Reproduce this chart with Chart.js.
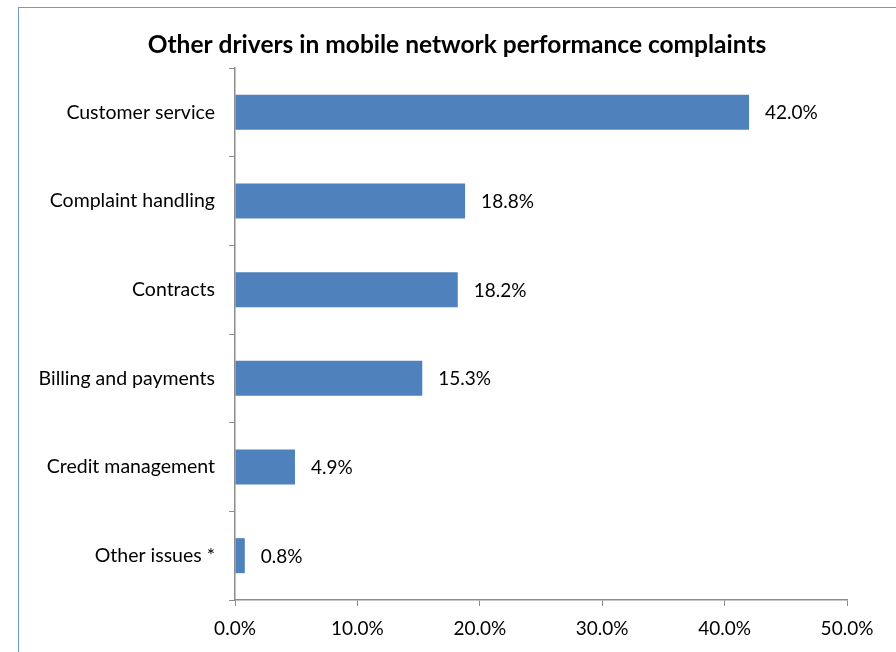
<!DOCTYPE html>
<html>
<head>
<meta charset="utf-8">
<script src="https://cdn.jsdelivr.net/npm/chart.js@4/dist/chart.umd.min.js"></script>
<style>
  html, body { margin: 0; padding: 0; background: #ffffff; }
  #wrap { position: relative; width: 896px; height: 652px; }
</style>
</head>
<body>
<div id="wrap"><canvas id="c" width="896" height="652"></canvas></div>
<script>
// Complaint drivers and their shares (percent)
const categories = ["Customer service", "Complaint handling", "Contracts", "Billing and payments", "Credit management", "Other issues *"];
const shares = [42.0, 18.8, 18.2, 15.3, 4.9, 0.8];
const titleText = "Other drivers in mobile network performance complaints";
const xMax = 50;
const xStep = 10;

const FONT = "Lato, 'Open Sans', sans-serif";
const AXIS_GREY = "#8c8c8c";

// Frame round the chart, title and the value labels after each bar
const decorations = {
  id: "decorations",
  beforeDraw(chart) {
    const ctx = chart.ctx;
    ctx.save();
    ctx.fillStyle = "#ffffff";
    ctx.fillRect(0, 0, chart.width, chart.height);
    ctx.strokeStyle = "#6d9bd2";
    ctx.lineWidth = 1;
    ctx.strokeRect(18.5, 7.5, chart.width + 10, chart.height + 10);
    ctx.restore();
  },
  afterDraw(chart) {
    const ctx = chart.ctx;
    ctx.save();
    ctx.fillStyle = "#000000";
    ctx.font = "bold 24.5px " + FONT;
    ctx.textAlign = "center";
    ctx.textBaseline = "middle";
    ctx.fillText(titleText, 457, 45);

    ctx.font = "19px " + FONT;
    ctx.textAlign = "left";
    const meta = chart.getDatasetMeta(0);
    meta.data.forEach((bar, i) => {
      ctx.fillText(shares[i].toFixed(1) + "%", bar.x + 16, bar.y + 1);
    });
    ctx.restore();
  }
};

new Chart(document.getElementById("c"), {
  type: "bar",
  data: {
    labels: categories,
    datasets: [{
      data: shares,
      backgroundColor: "#4f81bd",
      borderWidth: 0,
      barPercentage: 0.395,
      categoryPercentage: 1.0
    }]
  },
  options: {
    indexAxis: "y",
    responsive: false,
    animation: false,
    layout: { padding: { top: 68, right: 49, left: 0, bottom: 0 } },
    plugins: {
      legend: { display: false },
      title: { display: false },
      tooltip: { enabled: false }
    },
    scales: {
      x: {
        min: 0,
        max: xMax,
        afterFit(scale) { scale.height = 52; },
        ticks: {
          stepSize: xStep,
          color: "#000000",
          font: { family: FONT, size: 19 },
          padding: 11,
          callback: (v) => Number(v).toFixed(1) + "%"
        },
        grid: { drawOnChartArea: false, drawTicks: true, tickLength: 6, color: AXIS_GREY },
        border: { display: true, color: AXIS_GREY, width: 1.5 }
      },
      y: {
        afterFit(scale) { scale.width = 235; },
        ticks: {
          color: "#000000",
          font: { family: FONT, size: 19.5 },
          padding: 14
        },
        grid: { offset: true, drawOnChartArea: false, drawTicks: true, tickLength: 6, color: AXIS_GREY },
        border: { display: true, color: AXIS_GREY, width: 1.5 }
      }
    }
  },
  plugins: [decorations]
});
</script>
</body>
</html>
